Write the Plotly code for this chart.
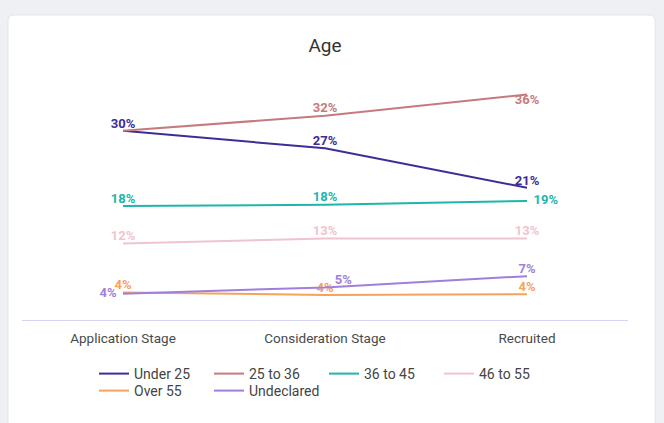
import plotly.graph_objects as go

stages = ["Application Stage", "Consideration Stage", "Recruited"]

under_25 = [29.8, 27.0, 20.7]
age_25_36 = [29.8, 32.2, 35.6]
age_36_45 = [17.8, 18.0, 18.6]
age_46_55 = [11.8, 12.6, 12.6]
over_55 = [4.0, 3.6, 3.7]
undeclared = [3.8, 4.8, 6.6]

W, H = 664, 423
L, R, T, B = 22, 36, 70, 103
NB = "\u00a0"


def px_x(p):
    return (p - L) / (W - L - R)


def px_y(p):
    return (H - B - p) / (H - T - B)


# name, values, colour, label positions, which labels show, legend row
series = [
    ("Under 25", under_25, "#3d2d96", ["top center", "top center", "top center"], [True, True, True], "legend"),
    ("25 to 36", age_25_36, "#c67a7e", ["top center", "top center", "bottom center"], [False, True, True], "legend"),
    ("36 to 45", age_36_45, "#1db5ad", ["top center", "top center", "middle right"], [True, True, True], "legend"),
    ("46 to 55", age_46_55, "#f0c4cf", ["top center", "top center", "top center"], [True, True, True], "legend"),
    ("Over 55", over_55, "#f7a15c", ["top center", "top center", "top center"], [True, True, True], "legend2"),
    ("Undeclared", undeclared, "#a07fdc", ["middle left", "top right", "top center"], [True, True, True], "legend2"),
]

# nudge a few labels sideways so they sit like the original
pad_before = {("Undeclared", 1): NB * 3, ("36 to 45", 2): NB * 2}
pad_after = {("Undeclared", 0): NB * 2}

fig = go.Figure()
for name, vals, color, pos, show, leg in series:
    labels = []
    for i, (v, s) in enumerate(zip(vals, show)):
        t = f"{v:.0f}%" if s else ""
        if t:
            t = pad_before.get((name, i), "") + t + pad_after.get((name, i), "")
        labels.append(t)
    fig.add_trace(go.Scatter(
        x=stages, y=vals, name=name, mode="lines+text", legend=leg,
        line=dict(color=color, width=2),
        text=labels, textposition=pos,
        textfont=dict(color=color, size=13, family="Roboto", weight=700),
        cliponaxis=False,
    ))

# card background with rounded corners
x0, x1 = px_x(8), px_x(655)
y0, y1 = px_y(440), px_y(15)
rx, ry = 6 / (W - L - R), 6 / (H - T - B)
card = (f"M {x0 + rx},{y1} L {x1 - rx},{y1} Q {x1},{y1} {x1},{y1 - ry} "
        f"L {x1},{y0} L {x0},{y0} L {x0},{y1 - ry} Q {x0},{y1} {x0 + rx},{y1} Z")

legend_style = dict(orientation="h", x=px_x(94), xanchor="left", yanchor="top",
                    entrywidth=70, entrywidthmode="pixels", itemwidth=30,
                    font=dict(size=14, color="#444444", family="Roboto"),
                    bgcolor="rgba(0,0,0,0)", tracegroupgap=0)

fig.update_layout(
    width=W, height=H,
    margin=dict(l=L, r=R, t=T, b=B),
    paper_bgcolor="#eef0f3",
    plot_bgcolor="rgba(0,0,0,0)",
    font=dict(family="Roboto", color="#444444"),
    title=dict(text="Age", x=0.5, xref="paper", xanchor="center", y=1 - 45 / H, yanchor="middle",
               font=dict(size=19, color="#333333", family="Roboto")),
    shapes=[dict(type="path", path=card, xref="paper", yref="paper", layer="below",
                 fillcolor="#ffffff", line=dict(color="#e2e5ea", width=1))],
    showlegend=True,
    legend=dict(legend_style, y=px_y(358)),
    legend2=dict(legend_style, y=px_y(375)),
)
fig.update_xaxes(showgrid=False, showline=True, linecolor="#d6d3f0", linewidth=1,
                 ticks="outside", ticklen=6, tickcolor="rgba(0,0,0,0)",
                 tickfont=dict(size=13.5, color="#4a4a4a"), range=[-0.5, 2.5])
fig.update_yaxes(visible=False, range=[-0.4, 39.5])

fig.write_html("out.html", config={"displayModeBar": False},
               post_script="document.body.style.margin='0';"
                           "document.body.style.background='#eef0f3';")
